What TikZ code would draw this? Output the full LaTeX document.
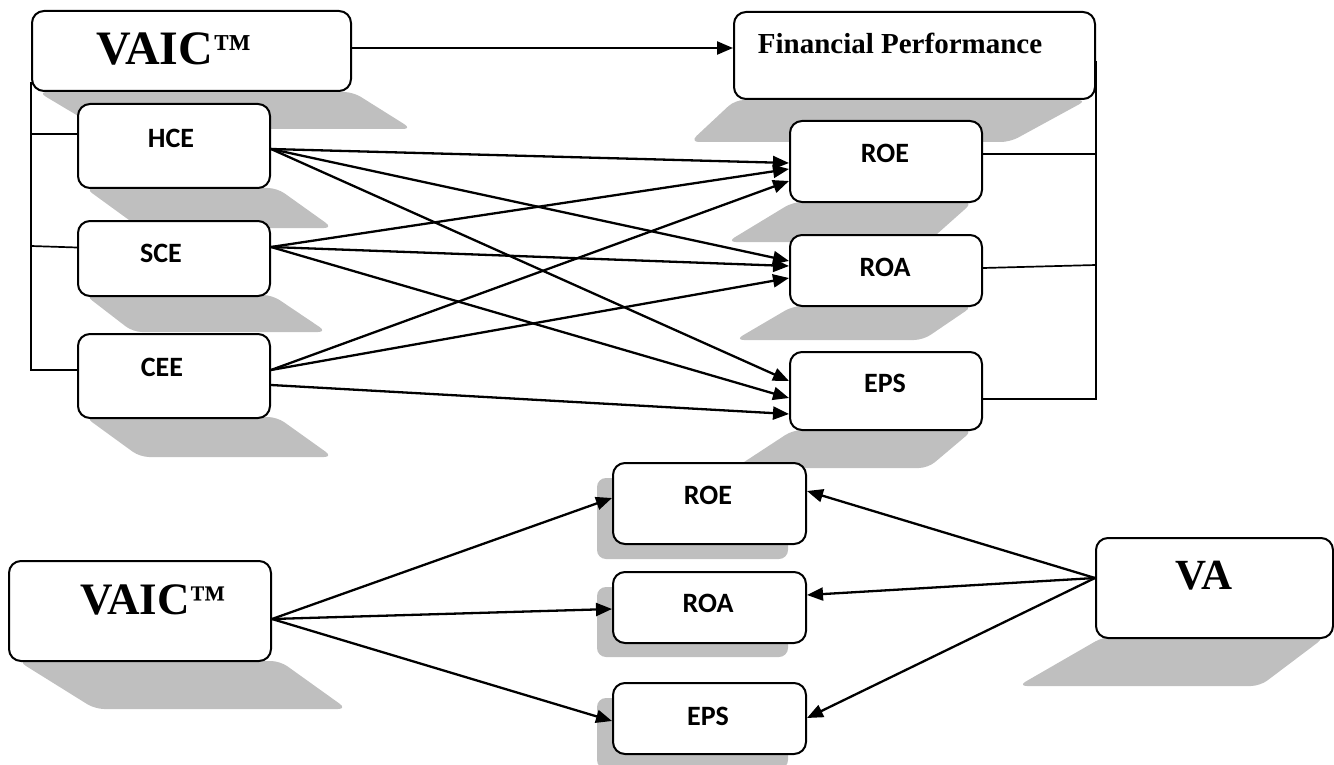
\documentclass[tikz,border=0pt]{standalone}
\usepackage{fontspec}
\setmainfont{Liberation Serif}
\newfontfamily\lblfont{Carlito}
\usetikzlibrary{arrows.meta,calc}
\definecolor{shade}{RGB}{191,191,191}
\begin{document}
\begin{tikzpicture}[x=1pt,y=-1pt,
  box/.style={draw, line width=2pt, rounded corners=12pt, fill=white, anchor=north west, inner sep=0pt},
  shd/.style={fill=shade, rounded corners=9pt},
  lbl/.style={font=\lblfont\bfseries\fontsize{28}{28}\selectfont, inner sep=0pt},
  ttl/.style={font=\bfseries\fontsize{#1}{#1}\selectfont, inner sep=0pt},
  arr/.style={line width=2.3pt, -{Triangle[length=16pt,width=13pt]}},
  bus/.style={line width=1.7pt}]
\useasboundingbox (0,0) rectangle (1334,765);
% shadows
\fill[shd] (38,92) -- (353,92) -- (412,129) -- (100,129) -- cycle;
\fill[shd] (735,100) -- (1087,100) -- (1010,142) -- (690,142) -- cycle;
\fill[shd] (85,188) -- (277,188) -- (333,228) -- (140,228) -- cycle;
\fill[shd] (85,295) -- (272,295) -- (327,332) -- (133,332) -- cycle;
\fill[shd] (85,417) -- (277,417) -- (333,457) -- (140,457) -- cycle;
\fill[shd] (793,202) -- (973,202) -- (928,242) -- (727,242) -- cycle;
\fill[shd] (793,306) -- (973,306) -- (923,340) -- (735,340) -- cycle;
\fill[shd] (793,430) -- (973,430) -- (928,468) -- (735,468) -- cycle;
\fill[shd] (18,661) -- (280,661) -- (347,709) -- (95,709) -- cycle;
\fill[shd] (1103,637) -- (1325,637) -- (1260,686) -- (1018,686) -- cycle;
\fill[shd] (597,478) rectangle (788,559);
\fill[shd] (597,587) rectangle (788,657);
\fill[shd] (597,698) rectangle (788,769);
% boxes
\node[box, minimum width=319pt, minimum height=80pt] (vaic) at (31,10) {};
\node[box, minimum width=361pt, minimum height=87pt] (fp) at (733,11) {};
\node[box, minimum width=192pt, minimum height=84pt] (hce) at (77,103) {};
\node[box, minimum width=192pt, minimum height=75pt] (sce) at (77,220) {};
\node[box, minimum width=192pt, minimum height=84pt] (cee) at (77,333) {};
\node[box, minimum width=192pt, minimum height=81pt] (roe1) at (789,120) {};
\node[box, minimum width=192pt, minimum height=71pt] (roa1) at (789,234) {};
\node[box, minimum width=192pt, minimum height=78pt] (eps1) at (789,351) {};
\node[box, minimum width=262pt, minimum height=100pt] (vaic2) at (8,560) {};
\node[box, minimum width=193pt, minimum height=81pt] (roe2) at (612,462) {};
\node[box, minimum width=193pt, minimum height=71pt] (roa2) at (612,571) {};
\node[box, minimum width=193pt, minimum height=71pt] (eps2) at (612,682) {};
\node[box, minimum width=237pt, minimum height=100pt] (va) at (1095,537) {};
% texts
\node[ttl=48] (t1) at (174,49) {VAIC\raisebox{4pt}{\fontsize{38}{38}\selectfont ™}};
\node[ttl=29] (t2) at (900,43) {Financial Performance};
\node[lbl] (t3) at (171,138) {HCE};
\node[lbl] (t4) at (161,253) {SCE};
\node[lbl] (t5) at (162,367) {CEE};
\node[lbl] (t6) at (885,153) {ROE};
\node[lbl] (t7) at (885,267) {ROA};
\node[lbl] (t8) at (885,383) {EPS};
\node[lbl] (t9) at (708,495) {ROE};
\node[lbl] (t10) at (708,603) {ROA};
\node[lbl] (t11) at (708,716) {EPS};
\node[ttl=45] (t12) at (153,600) {VAIC\raisebox{4pt}{\fontsize{36}{36}\selectfont ™}};
\node[ttl=43] (t13) at (1204,576) {VA};
% buses
\draw[bus] ([yshift=10pt]vaic.south west) |- ([yshift=6pt]cee.west);
\draw[bus] ([yshift=12pt]hce.west) -- ([yshift=12pt]hce.west -| vaic.west);
\draw[bus] ([yshift=11pt]sce.west) -- ([yshift=12.5pt]sce.west -| vaic.west);
\draw[bus] ([yshift=-6pt]fp.east) |- ([yshift=-8pt]eps1.east);
\draw[bus] ([yshift=7.5pt]roe1.east) -- ([yshift=7.5pt]roe1.east -| fp.east);
\draw[bus] ([yshift=2.5pt]roa1.east) -- ([yshift=5.5pt]roa1.east -| fp.east);
% arrows top
\draw[arr] ([yshift=3pt]vaic.east) -- ([yshift=7.5pt]fp.west);
\draw[arr] ([yshift=-3pt]hce.east) -- ([yshift=-1.5pt]roe1.west);
\draw[arr] ([yshift=-3pt]hce.east) -- ([yshift=9.5pt]roa1.west);
\draw[arr] ([yshift=-3pt]hce.east) -- ([yshift=10pt]eps1.west);
\draw[arr] ([yshift=11.5pt]sce.east) -- ([yshift=-7.5pt]roe1.west);
\draw[arr] ([yshift=11.5pt]sce.east) -- ([yshift=4.5pt]roa1.west);
\draw[arr] ([yshift=11.5pt]sce.east) -- ([yshift=-7pt]eps1.west);
\draw[arr] ([yshift=6pt]cee.east) -- ([yshift=-19.5pt]roe1.west);
\draw[arr] ([yshift=6pt]cee.east) -- ([yshift=-7.5pt]roa1.west);
\draw[arr] ([yshift=-9pt]cee.east) -- ([yshift=-23pt]eps1.west);
% arrows bottom
\draw[arr] ([yshift=-8pt]vaic2.east) -- ([yshift=5.5pt]roe2.west);
\draw[arr] ([yshift=-8pt]vaic2.east) -- ([yshift=-1.5pt]roa2.west);
\draw[arr] ([yshift=-8pt]vaic2.east) -- ([yshift=-2.5pt]eps2.west);
\draw[arr] ([yshift=10pt]va.west) -- ([yshift=12.5pt]roe2.east);
\draw[arr] ([yshift=10pt]va.west) -- ([yshift=12.5pt]roa2.east);
\draw[arr] ([yshift=10pt]va.west) -- ([yshift=0.5pt]eps2.east);
\end{tikzpicture}
\end{document}
